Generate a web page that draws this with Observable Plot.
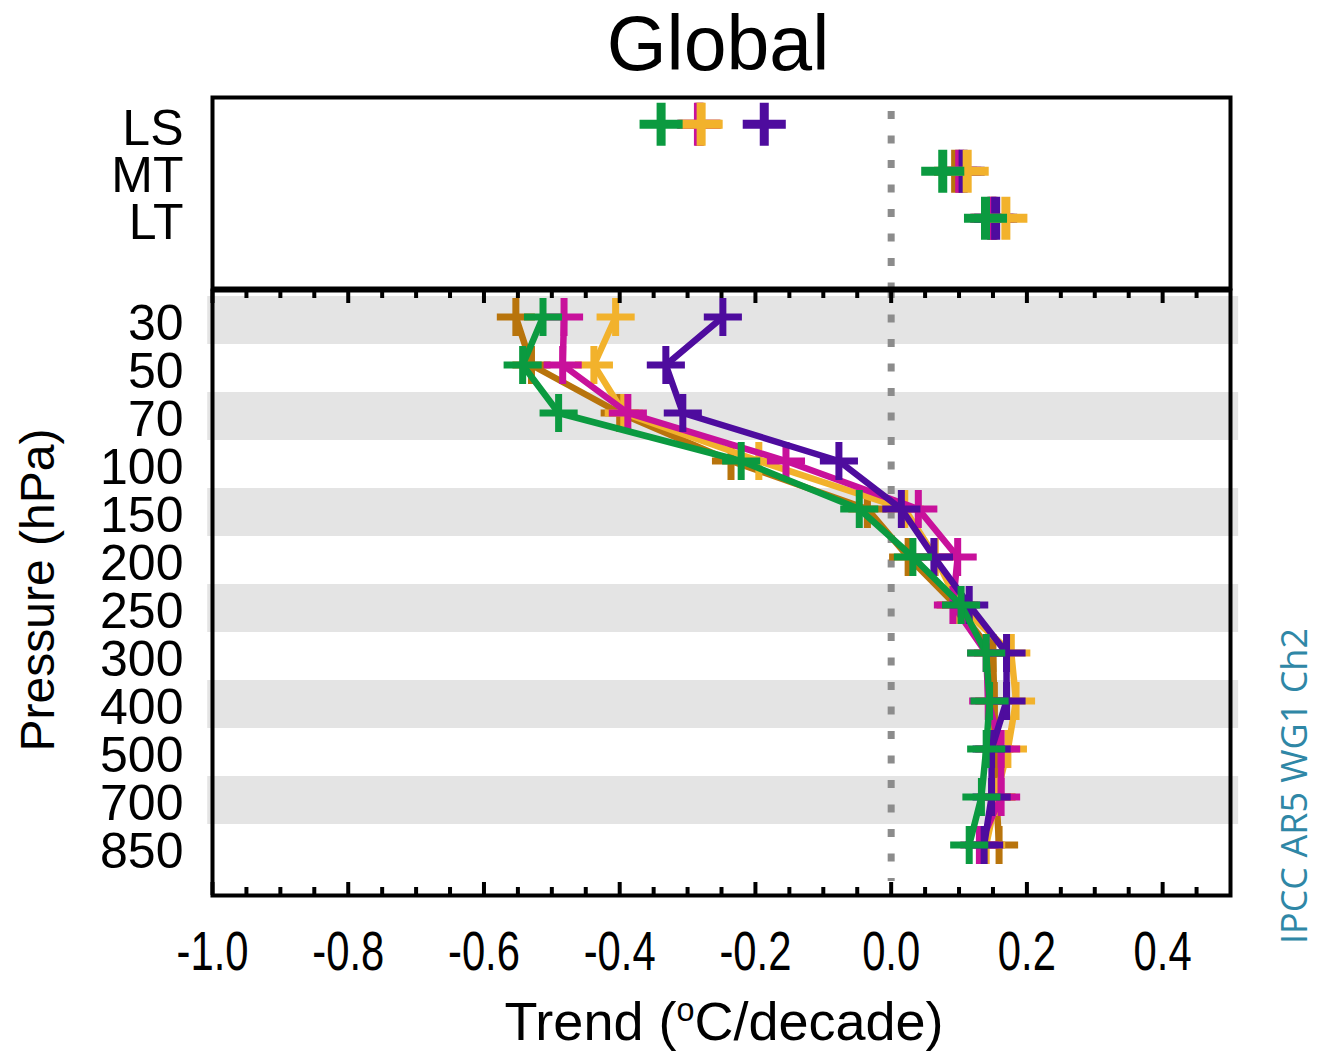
<!DOCTYPE html>
<html><head><meta charset="utf-8">
<script src="https://cdn.jsdelivr.net/npm/d3@7"></script>
<script src="https://cdn.jsdelivr.net/npm/@observablehq/plot@0.6"></script>
<style>
html,body{margin:0;padding:0;background:#fff;}
#chart{position:relative;width:1319px;height:1053px;overflow:hidden;font-family:"Liberation Sans",Arial,sans-serif;background:#fff;}
#chart > svg{position:absolute;left:0;}
.lbl{position:absolute;line-height:1;white-space:nowrap;color:#000;}
.vert{writing-mode:vertical-rl;}
</style></head><body><div id="chart"></div>
<script>
// ---- data ----
const levels = ["30","50","70","100","150","200","250","300","400","500","700","850"];
const stripeLevels = ["30","70","150","250","400","700"];
const satLayers = ["LS","MT","LT"];
const seriesNames = ["brown","orange","magenta","purple","green"];
const seriesColors = ["#b8740c","#f2b22c","#c8119b","#4e0c9e","#0b9a40"];
// radiosonde trend profiles (°C/decade) per pressure level
const brownProfile   = [-0.553,-0.530,-0.400,-0.236,-0.035,0.025,0.095,0.150,0.152,0.152,0.155,0.159];
const orangeProfile  = [-0.406,-0.438,-0.394,-0.195,0.020,0.065,0.100,0.177,0.184,0.172,0.155,0.140];
const magentaProfile = [-0.482,-0.484,-0.388,-0.155,0.040,0.098,0.091,0.140,0.143,0.162,0.162,0.130];
const purpleProfile  = [-0.248,-0.332,-0.307,-0.077,0.015,0.063,0.115,0.170,0.170,0.148,0.148,0.137];
const greenProfile   = [-0.513,-0.543,-0.490,-0.221,-0.047,0.032,0.103,0.140,0.145,0.140,0.133,0.115];
// satellite-layer trends (LS, MT, LT)
const brownSat   = [-0.282,0.095,0.150];
const orangeSat  = [-0.280,0.112,0.169];
const magentaSat = [-0.284,0.101,0.148];
const purpleSat  = [-0.187,0.106,0.154];
const greenSat   = [-0.339,0.076,0.139];
const xTicks = [-1.0,-0.8,-0.6,-0.4,-0.2,0.0,0.2,0.4];
const minorTicks = [-0.95,-0.9,-0.85,-0.75,-0.7,-0.65,-0.55,-0.5,-0.45,-0.35,-0.3,-0.25,-0.15,-0.1,-0.05,0.05,0.1,0.15,0.25,0.3,0.35,0.45];

const profiles = {brown: brownProfile, orange: orangeProfile, magenta: magentaProfile, purple: purpleProfile, green: greenProfile};
const sats = {brown: brownSat, orange: orangeSat, magenta: magentaSat, purple: purpleSat, green: greenSat};
const colorOf = Object.fromEntries(seriesNames.map((s,i)=>[s,seriesColors[i]]));

const profileRows = seriesNames.map(s => levels.map((lv,i)=>({series:s, level:lv, value:profiles[s][i]})));
const satOrder = ["brown","magenta","purple","orange","green"];
const satRows = satOrder.map(s => satLayers.map((ly,i)=>({series:s, layer:ly, value:sats[s][i]})));

const FONT = '"Liberation Sans", Arial, sans-serif';
const chart = document.getElementById("chart");

// ---- top panel (satellite layers) ----
const topPlot = Plot.plot({
  width: 1319, height: 290,
  marginLeft: 212, marginRight: 89, marginTop: 97, marginBottom: 2,
  x: {domain: [-1, 0.5], axis: null},
  y: {type: "band", domain: [...satLayers, " "], padding: 0, axis: null},
  style: {background: "transparent", overflow: "visible", fontFamily: FONT, fontSize: "50px", color: "#000"},
  marks: [
    Plot.ruleX([0], {stroke: "#8c8c8c", strokeWidth: 7, strokeDasharray: "8 16.5", insetTop: 14}),
    ...satRows.map((rows,k) => Plot.dot(rows, {x: "value", y: "layer", symbol: "plus", r: 13.9, stroke: colorOf[satOrder[k]], strokeWidth: 9, dy: 1.3})),
    Plot.frame({stroke: "#000", strokeWidth: 4}),
    Plot.axisY({ticks: satLayers, tickSize: 0, tickPadding: 29, fontSize: 50, dy: 6, label: null})
  ]
});
topPlot.style.top = "0px";
chart.appendChild(topPlot);

// ---- lower panel (pressure levels) ----
const LH = 767, LMT = 4, LMB = 158;
const innerH = LH - LMT - LMB;
const lowerPlot = Plot.plot({
  width: 1319, height: LH,
  marginLeft: 212, marginRight: 89, marginTop: LMT, marginBottom: LMB,
  x: {domain: [-1, 0.5]},
  y: {type: "band", domain: levels, padding: 0, insetTop: 2, insetBottom: 20},
  style: {background: "transparent", overflow: "visible", fontFamily: FONT, fontSize: "50px", color: "#000"},
  marks: [
    Plot.barX(stripeLevels, {y: d => d, x1: () => -1.007, x2: () => 0.512, fill: "#e4e4e4"}),
    Plot.ruleX([0], {stroke: "#8c8c8c", strokeWidth: 7, strokeDasharray: "8 16.5", insetBottom: 14}),
    ...profileRows.flatMap((rows,k) => [
      Plot.line(rows, {x: "value", y: "level", stroke: seriesColors[k], strokeWidth: 6.5, dy: -3.5}),
      Plot.dot(rows, {x: "value", y: "level", symbol: "plus", r: 12.3, stroke: seriesColors[k], strokeWidth: 7, dy: -3.5})
    ]),
    Plot.ruleX(minorTicks, {stroke: "#000", strokeWidth: 4, insetTop: innerH - 8}),
    Plot.ruleX(minorTicks, {stroke: "#000", strokeWidth: 4, insetBottom: innerH - 8}),
    Plot.ruleX(xTicks, {stroke: "#000", strokeWidth: 4, insetTop: innerH - 13}),
    Plot.ruleX(xTicks, {stroke: "#000", strokeWidth: 4, insetBottom: innerH - 13}),
    Plot.frame({stroke: "#000", strokeWidth: 4}),
    Plot.axisY({ticks: levels, tickSize: 0, tickPadding: 29, fontSize: 50, dy: 3.5, label: null}),
    Plot.axisX({ticks: xTicks, tickSize: 0, tickPadding: 35, fontSize: 55, tickFormat: d => d.toFixed(1), label: null})
  ]
});
lowerPlot.style.top = "286px";
chart.appendChild(lowerPlot);

// condense x tick labels horizontally like the original (scale about each label's own anchor)
lowerPlot.querySelectorAll('g[aria-label="x-axis tick label"] text').forEach(t => {
  const tr = t.getAttribute("transform") || "";
  const xa = t.getAttribute("x");
  const x = xa != null ? (parseFloat(xa) || 0) : 0;
  t.setAttribute("transform", `${tr} translate(${x},0) scale(0.76,1)`);
  if (xa != null) t.setAttribute("x", 0);
});

// ---- texts ----
function addLabel(html, css, cls) {
  const d = document.createElement("div");
  d.className = "lbl" + (cls ? " " + cls : "");
  d.innerHTML = html;
  Object.assign(d.style, css);
  chart.appendChild(d);
  return d;
}
addLabel("Global", {left: "209px", width: "1018px", textAlign: "center", top: "5px", fontSize: "77px"});
addLabel('Trend (<span style="font-size:0.6em;position:relative;top:-0.6em">o</span>C/decade)',
  {left: "215px", width: "1018px", textAlign: "center", top: "994px", fontSize: "54px"});
addLabel("Pressure (hPa)", {left: "38px", top: "590px", fontSize: "48px", transform: "translate(-50%,-50%) rotate(180deg)"}, "vert");
addLabel("IPCC AR5 WG1 Ch2", {left: "1294px", top: "786px", fontSize: "36px", fontFamily: '"Open Sans", sans-serif', color: "#2f87a6", transform: "translate(-50%,-50%) rotate(180deg)"}, "vert");
</script></body></html>
